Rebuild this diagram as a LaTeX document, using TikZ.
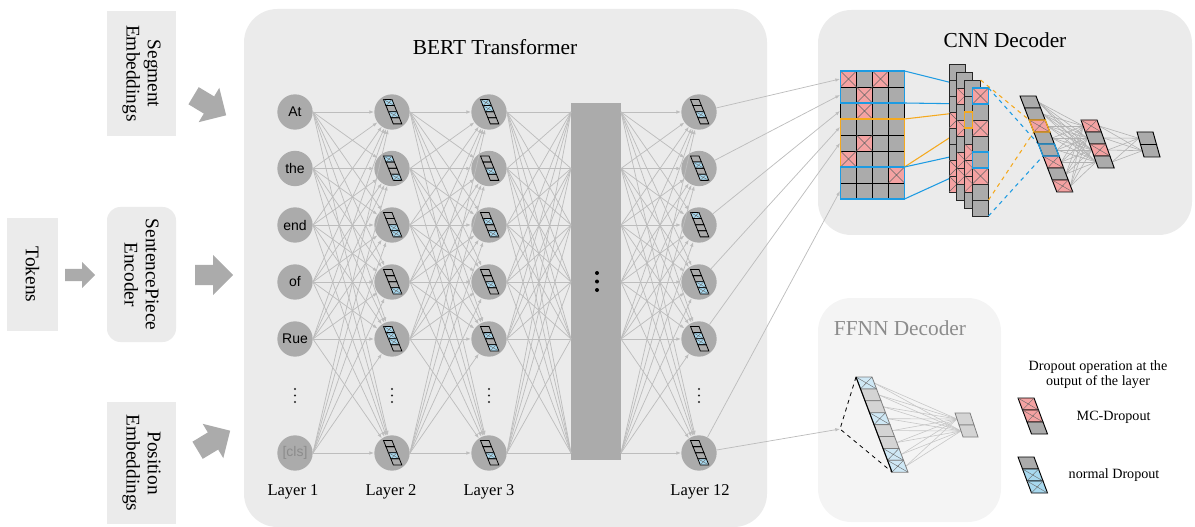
\documentclass[tikz,border=0pt]{standalone}
\usepackage{fontspec}
\setmainfont{Liberation Serif}
\newfontfamily\arialf{Liberation Sans}
\usetikzlibrary{arrows.meta}
\definecolor{boxgray}{HTML}{EBEBEB}
\definecolor{ffgray}{HTML}{F4F4F4}
\definecolor{nodegray}{HTML}{ABABAB}
\definecolor{linegray}{HTML}{BDBDBD}
\definecolor{redc}{HTML}{F4A2A2}
\definecolor{bluec}{HTML}{A8D8EE}
\definecolor{lbluec}{HTML}{CFE8F5}
\definecolor{cgray}{HTML}{ABABAB}
\definecolor{lgrayc}{HTML}{D4D4D4}
\definecolor{orangec}{HTML}{F5A91E}
\definecolor{bluel}{HTML}{1D9BE2}
\definecolor{titlegray}{HTML}{8C8C8C}
\definecolor{dgray}{HTML}{7F7F7F}
% slanted vector: x y w h dx codes border plainfill xfill
\newcommand\slvec[9]{%
  \foreach \c [count=\i from 0] in {#6} {%
    \pgfmathsetmacro\xa{#1+\i*(#5)}%
    \pgfmathsetmacro\ya{#2+\i*(#4)}%
    \ifnum\c=1 \def\cf{redc}\else\ifnum\c=2 \def\cf{#9}\else\def\cf{#8}\fi\fi
    \filldraw[fill=\cf,draw=#7] (\xa,\ya) -- ++(#3,0) -- ++(#5,#4) -- ++(-#3,0) -- cycle;
    \ifnum\c>0 \draw[xline] (\xa,\ya) -- ++(#3+#5,#4) (\xa+#3,\ya) -- ++(#5-#3,#4);\fi
  }}
\newcommand\slout[7]{% outline one slanted cell: x y w h dx index colour
  \draw[#7,line width=0.9pt] (#1+#6*#5,#2+#6*#4) -- ++(#3,0) -- ++(#5,#4) -- ++(-#3,0) -- cycle;}
\newcommand\icon[3]{\begin{scope}[line width=0.6pt]\slvec{#1-8.5}{#2-12.5}{8.5}{6.1}{2.45}{#3}{black}{none}{bluec}\end{scope}}
\newcommand\fcol[3]{% x y redrows
  \foreach \r in {0,...,7} {\filldraw[fill=cgray,draw=black!85,line width=0.6pt] (#1,#2+16*\r) rectangle ++(16,16);}
  \foreach \r in {#3} {\filldraw[fill=redc,draw=black!85,line width=0.6pt] (#1,#2+16*\r) rectangle ++(16,16);
     \draw[xline] (#1,#2+16*\r) -- ++(16,16) (#1+16,#2+16*\r) -- ++(-16,16);}}
\newcommand\barrow[6]{% x y angle shaftlen shafthalf headlen headhalf
  \begin{scope}[shift={(#1,#2)},rotate=#3]
  \fill[nodegray] (-#4,-#5) -- (0,-#5) -- (0,-#6) -- (#6,0) -- (0,#6) -- (0,#5) -- (-#4,#5) -- cycle;
  \end{scope}}
\begin{document}
\begin{tikzpicture}[x=0.75pt,y=-0.75pt,
  tnode/.style={circle,fill=nodegray,minimum size=26.5pt,inner sep=0pt,font=\arialf\fontsize{10.5}{12}\selectfont},
  conn/.style={draw=linegray,line width=0.55pt,-{Latex[length=3.5pt,width=2.6pt]}},
  connp/.style={draw=linegray,line width=0.55pt},
  dense/.style={draw=black!30,line width=0.45pt},
  xline/.style={draw=black!60,line width=0.3pt},
  sidetext/.style={rotate=-90,align=center,font=\fontsize{14.5}{16}\selectfont},
  laytext/.style={font=\fontsize{12.4}{14}\selectfont},
  title/.style={font=\fontsize{16}{18}\selectfont}]
\useasboundingbox (0,0) rectangle (1195,527);
% ---------- left column
\fill[boxgray] (7,218) rectangle (58,331);
\node[sidetext] (tok) at (32.5,274.5) {Tokens};
\fill[boxgray] (107,11) rectangle (176,136);
\node[sidetext] (seg) at (141.5,73.5) {Segment\\Embeddings};
\fill[boxgray,rounded corners=10] (107,207) rectangle (176,342);
\node[sidetext] (spe) at (141.5,274.5) {SentencePiece\\Encoder};
\fill[boxgray] (107,402) rectangle (176,524);
\node[sidetext] (pos) at (141.5,463) {Position\\Embeddings};
\barrow{82}{275}{0}{17}{6}{13}{12.5}
\barrow{209}{105}{-31}{18}{10}{20}{20}
\barrow{213}{275}{0}{18}{10}{20}{20}
\barrow{213}{441}{31}{18}{10}{20}{20}
% ---------- BERT box
\fill[boxgray,rounded corners=25] (244,9) rectangle (767,527);
\node[title] at (495,47) {BERT Transformer};
\foreach \L/\X in {1/295,2/392,3/489,12/699} {
  \foreach \y [count=\r] in {112,168.5,225,282,339,453} {
    \node[tnode] (n-\L-\r) at (\X,\y) {};
  }
  \foreach \yy in {389,395.5,402} \fill[black!85] (\X,\yy) circle (0.8pt);
}
\node[font=\arialf\fontsize{10.5}{12}\selectfont] at (n-1-1) {At};
\node[font=\arialf\fontsize{10.5}{12}\selectfont] at (n-1-2) {the};
\node[font=\arialf\fontsize{10.5}{12}\selectfont] at (n-1-3) {end};
\node[font=\arialf\fontsize{10.5}{12}\selectfont] at (n-1-4) {of};
\node[font=\arialf\fontsize{10.5}{12}\selectfont] at (n-1-5) {Rue};
\node[font=\arialf\fontsize{10.5}{12}\selectfont,text=titlegray] at (n-1-6) {[cls]};
\node[laytext] at (293,492) {Layer 1};
\node[laytext] at (391,492) {Layer 2};
\node[laytext] at (489,492) {Layer 3};
\node[laytext] at (700,492) {Layer 12};
\node[fill=nodegray,minimum width=37.5pt,minimum height=267.75pt,inner sep=0pt] (rect) at (596,281.5) {};
\foreach \yy in {273,281.5,290} \fill[black] (597,\yy) circle (1.5pt);
\foreach \y [count=\r] in {112,168.5,225,282,339,453} {
  \coordinate (rl-\r) at (571,\y);
  \coordinate (rr-\r) at (621,\y);
}
\foreach \a/\b in {1/2,2/3} \foreach \i in {1,...,6} \foreach \j in {1,...,6}
  \draw[conn] (n-\a-\i.east) -- (n-\b-\j);
\foreach \i in {1,...,6} \foreach \j in {1,...,6} {
  \draw[connp] (n-3-\i.east) -- (rl-\j);
  \draw[conn] (rr-\i) -- (n-12-\j);
}
% icons
\icon{392}{112}{2,0,2,0}\icon{392}{168.5}{2,0,0,2}\icon{392}{225}{0,0,2,2}
\icon{392}{282}{0,0,0,2}\icon{392}{339}{2,2,2,0}\icon{392}{453}{0,0,2,0}
\icon{489}{112}{2,2,0,0}\icon{489}{168.5}{0,0,2,0}\icon{489}{225}{0,2,0,2}
\icon{489}{282}{0,0,2,0}\icon{489}{339}{0,2,0,2}\icon{489}{453}{0,0,2,0}
\icon{699}{112}{0,0,2,0}\icon{699}{168.5}{0,2,0,2}\icon{699}{225}{2,0,0,0}
\icon{699}{282}{0,0,2,2}\icon{699}{339}{0,2,2,0}\icon{699}{453}{0,0,0,2}
% ---------- CNN decoder
\fill[boxgray,rounded corners=25] (818,10) rectangle (1192,235);
\node[title] at (1005,40) {CNN Decoder};
\foreach \k/\yy in {1/79,2/95,3/111,4/127,5/143,6/191} {
  \coordinate (m-\k) at (840,\yy);
  \draw[conn] (n-12-\k) -- (m-\k);
}
\foreach \r in {0,...,7} \foreach \c in {0,...,3}
  \filldraw[fill=cgray,draw=black,line width=0.7pt] (840.5+16*\c,71+16*\r) rectangle ++(16,16);
\foreach \c/\r in {0/0,2/0,1/1,1/2,1/4,0/5,3/6} {
  \filldraw[fill=redc,draw=black,line width=0.7pt] (840.5+16*\c,71+16*\r) rectangle ++(16,16);
  \draw[xline] (840.5+16*\c,71+16*\r) -- ++(16,16) (856.5+16*\c,71+16*\r) -- ++(-16,16);
}
\draw[bluel,line width=0.9pt] (840.5,71) rectangle (904.5,103);
\draw[orangec,line width=0.9pt] (840.5,119) rectangle (904.5,167);
\draw[bluel,line width=0.9pt] (840.5,167) rectangle (904.5,199);
% solid mapping lines
\draw[bluel,line width=0.8pt] (904.5,71) -- (972.5,88) (904.5,103) -- (972.5,104);
\draw[orangec,line width=0.8pt] (904.5,119) -- (964.5,112) (904.5,167) -- (964.5,128);
\draw[bluel,line width=0.8pt] (904.5,167) -- (972.5,152) (904.5,199) -- (972.5,168);
% feature maps
\fcol{949}{64}{3,6,7}
\fcol{956.8}{72}{1,3,5,6}
\fcol{964.6}{80}{4,5,6}
\fcol{972.5}{88}{0,2,5}
\draw[orangec,line width=0.9pt] (964.6,112) rectangle (972.5,128);
\draw[bluel,line width=0.9pt] (972.5,88) rectangle (988.5,104);
\draw[bluel,line width=0.9pt] (972.5,152) rectangle (988.5,168);
% dashed lines
\draw[orangec,dashed,line width=0.8pt] (980.6,80) -- (1029.2,120) (988.5,200) -- (1033.8,132);
\draw[bluel,dashed,line width=0.8pt] (988.5,88) -- (1038.4,144) (988.5,216) -- (1043,156);
% dense lines
\foreach \i in {0,...,7} \foreach \j in {0,...,3}
  \draw[dense] (1038.3+\i*4.6,102+\i*12) -- (1083.15+\j*4.3,126+\j*12);
\foreach \j in {0,...,3} \foreach \k in {0,...,1}
  \draw[dense] (1099.15+\j*4.3,126+\j*12) -- (1138.75+\k*3.5,138.25+\k*12.5);
\begin{scope}[line width=0.7pt]
\slvec{1020}{96}{16}{12}{4.6}{0,0,1,0,0,1,0,1}{black}{cgray}{bluec}
\slout{1020}{96}{16}{12}{4.6}{2}{orangec}
\slout{1020}{96}{16}{12}{4.6}{4}{bluel}
\slvec{1081}{120}{16}{12}{4.3}{1,0,1,0}{black}{cgray}{bluec}
\slvec{1137}{132}{16}{12.5}{3.5}{0,0}{black}{cgray}{bluec}
\end{scope}
% ---------- FFNN decoder
\fill[ffgray,rounded corners=25] (818,298) rectangle (1001,522);
\node[title,text=titlegray] at (900,328) {FFNN Decoder};
\coordinate (apex) at (840,429);
\draw[conn] (n-12-6) -- (apex);
\draw[black,dashed,line width=0.6pt] (856,377) -- (apex) -- (892,472);
\foreach \i in {0,...,7} \foreach \k in {0,...,1}
  \draw[dense,draw=black!22] (874.25+\i*4.5,383+\i*11.9) -- (957+\k*4,419+\k*12);
\begin{scope}[line width=0.6pt]
\slvec{856}{377}{16}{11.9}{4.5}{2,0,0,2,0,0,2,2}{dgray}{lgrayc}{lbluec}
\slvec{955}{413}{15}{12}{4}{0,0}{dgray}{lgrayc}{lbluec}
\end{scope}
\draw[black,line width=0.8pt] (856,377) -- (892,472.2);
% ---------- legend
\node[align=center,font=\fontsize{10.6}{11.3}\selectfont] at (1098,375) {Dropout operation at the\\output of the layer};
\begin{scope}[line width=0.7pt]
\slvec{1018}{398}{16}{12}{4.5}{1,1,0}{black}{cgray}{bluec}
\slvec{1018}{457}{16}{12}{4.5}{0,2,2}{black}{cgray}{bluec}
\end{scope}
\node[anchor=west,font=\fontsize{10.6}{12}\selectfont] at (1072,417) {MC-Dropout};
\node[anchor=west,font=\fontsize{10.6}{12}\selectfont] at (1064,475) {normal Dropout};
\end{tikzpicture}
\end{document}
